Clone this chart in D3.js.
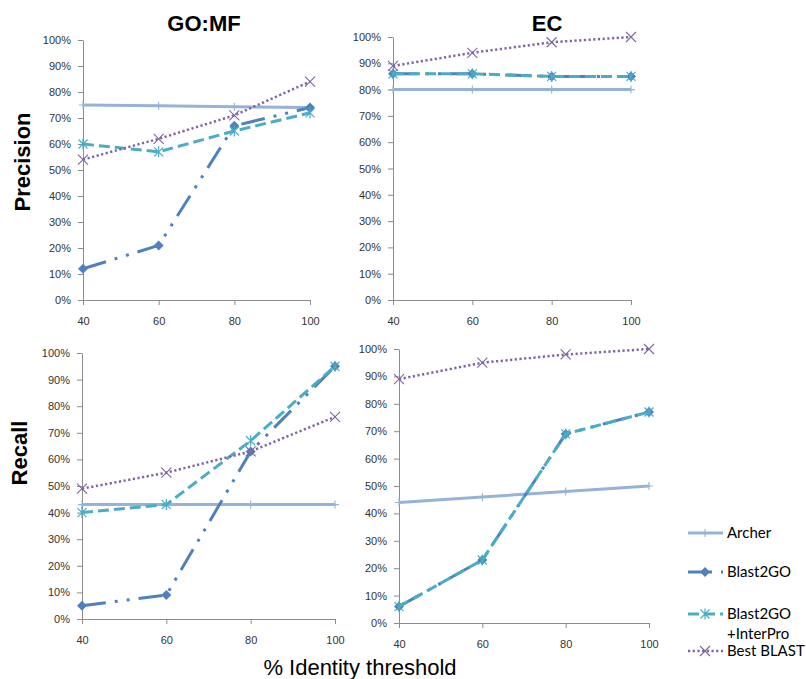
<!DOCTYPE html>
<html>
<head>
<meta charset="utf-8">
<script src="https://cdn.jsdelivr.net/npm/d3@7"></script>
<style>
  body { margin: 0; background: #fff; }
  text { font-family: "Liberation Sans", Arial, sans-serif; }
</style>
</head>
<body>
<svg id="chart" width="806" height="679"></svg>
<script>
// x categories and y ticks
const thresholds = [40, 60, 80, 100];
const yTicks = [0, 10, 20, 30, 40, 50, 60, 70, 80, 90, 100];
const seriesNames = ["Archer", "Blast2GO", "Blast2GO+InterPro", "Best BLAST"];

// GO:MF precision (%)
const goPrecArcher = [75, 74.7, 74.3, 74];
const goPrecBlast2go = [12, 21, 67, 74];
const goPrecInterpro = [60, 57, 65, 72];
const goPrecBest = [54, 62, 71, 84];

// EC precision (%)
const ecPrecArcher = [80, 80, 80, 80];
const ecPrecBlast2go = [86, 86, 85, 85];
const ecPrecInterpro = [86, 86, 85, 85];
const ecPrecBest = [89, 94, 98, 100];

// GO:MF recall (%)
const goRecArcher = [43, 43, 43, 43];
const goRecBlast2go = [5, 9, 63, 95];
const goRecInterpro = [40, 43, 67, 95];
const goRecBest = [49, 55, 63, 76];

// EC recall (%)
const ecRecArcher = [44, 46, 48, 50];
const ecRecBlast2go = [6, 23, 69, 77];
const ecRecInterpro = [6, 23, 69, 77];
const ecRecBest = [89, 95, 98, 100];

// series styles (excel 2007 palette)
const styles = [
    {color: "#95b3d7", dash: null, marker: "plus", width: 3},
    {color: "#4f81bd", dash: "24,9,3,9,3,9", marker: "diamond", width: 3},
    {color: "#4bacc6", dash: "11,5", marker: "star", width: 3},
    {color: "#8064a2", dash: "2.2,2.5", marker: "cross", width: 2.5}
];

// panel boxes: left, right, top (100%), bottom (0%)
const panels = [
    {x0: 83, x1: 310, yTop: 40, yBot: 300, series: [goPrecArcher, goPrecBlast2go, goPrecInterpro, goPrecBest]},
    {x0: 393, x1: 631, yTop: 37, yBot: 300, series: [ecPrecArcher, ecPrecBlast2go, ecPrecInterpro, ecPrecBest]},
    {x0: 82, x1: 335, yTop: 353, yBot: 619, series: [goRecArcher, goRecBlast2go, goRecInterpro, goRecBest]},
    {x0: 399, x1: 649, yTop: 349, yBot: 623, series: [ecRecArcher, ecRecBlast2go, ecRecInterpro, ecRecBest]}
];

let svg = d3.select("#chart");

//draw a marker of the given kind at (0,0) inside group g
function drawMarker(g, kind, color) {
    if (kind === "diamond") {
        g.append("path").attr("d", "M0,-5L5,0L0,5L-5,0Z").attr("fill", color);
    } else if (kind === "star") {
        g.append("path").attr("d", "M-4.5,-4.5L4.5,4.5M-4.5,4.5L4.5,-4.5M0,-5.5L0,5.5")
            .attr("stroke", color).attr("stroke-width", 1.2).attr("fill", "none");
    } else if (kind === "cross") {
        g.append("path").attr("d", "M-5,-5L5,5M-5,5L5,-5")
            .attr("stroke", color).attr("stroke-width", 1.1).attr("fill", "none");
    } else if (kind === "plus") {
        g.append("path").attr("d", "M-4,0L4,0M0,-4L0,4")
            .attr("stroke", color).attr("stroke-width", 1.1).attr("fill", "none");
    }
}

panels.forEach(function(p) {
    let x = d3.scalePoint().domain(thresholds).range([p.x0, p.x1]).padding(0);
    let y = d3.scaleLinear().domain([0, 100]).range([p.yBot, p.yTop]);

    let yaxis = d3.axisLeft(y).tickValues(yTicks).tickFormat(d => d + "%")
        .tickSize(5).tickSizeOuter(0).tickPadding(7);
    let xaxis = d3.axisBottom(x).tickSize(5).tickSizeOuter(0).tickPadding(12);

    let gy = svg.append("g").attr("transform", `translate(${p.x0},0)`).call(yaxis);
    let gx = svg.append("g").attr("transform", `translate(0,${p.yBot})`).call(xaxis);
    [gx, gy].forEach(function(g) {
        g.select(".domain").attr("stroke", "#8c8c8c");
        g.selectAll(".tick line").attr("stroke", "#8c8c8c");
        g.selectAll("text").attr("fill", "#333").style("font-size", "11px");
    });

    let line = d3.line().x((d, i) => x(thresholds[i])).y(d => y(d));

    p.series.forEach(function(vals, si) {
        let st = styles[si];
        svg.append("path")
            .datum(vals)
            .attr("d", line)
            .attr("fill", "none")
            .attr("stroke", st.color)
            .attr("stroke-width", st.width)
            .attr("stroke-dasharray", st.dash)
            .attr("stroke-linejoin", "round");
        vals.forEach(function(v, i) {
            let g = svg.append("g").attr("transform", `translate(${x(thresholds[i])},${y(v)})`);
            drawMarker(g, st.marker, st.color);
        });
    });
});

// column titles
svg.append("text").attr("x", 204).attr("y", 31).attr("text-anchor", "middle")
    .style("font-size", "22px").style("font-weight", "bold").text("GO:MF");
svg.append("text").attr("x", 547).attr("y", 31).attr("text-anchor", "middle")
    .style("font-size", "22px").style("font-weight", "bold").text("EC");

// row titles
svg.append("text").attr("transform", "translate(30,162) rotate(-90)").attr("text-anchor", "middle")
    .style("font-size", "22px").style("font-weight", "bold").text("Precision");
svg.append("text").attr("transform", "translate(27,453) rotate(-90)").attr("text-anchor", "middle")
    .style("font-size", "22px").style("font-weight", "bold").text("Recall");

// x axis title
svg.append("text").attr("x", 360).attr("y", 675).attr("text-anchor", "middle")
    .style("font-size", "22px").text("% Identity threshold");

//legend
let legendY = [533, 572, 614, 651];
seriesNames.forEach(function(name, i) {
    let st = styles[i];
    let ly = legendY[i];
    svg.append("line").attr("x1", 688).attr("x2", 723).attr("y1", ly).attr("y2", ly)
        .attr("stroke", st.color).attr("stroke-width", st.width)
        .attr("stroke-dasharray", st.dash);
    let g = svg.append("g").attr("transform", `translate(705,${ly})`);
    drawMarker(g, st.marker, st.color);
    let t = svg.append("text").attr("x", 727).attr("y", ly + 5)
        .style("font-family", "Lato, sans-serif").style("font-size", "15px").attr("fill", "#000");
    if (name === "Blast2GO+InterPro") {
        t.append("tspan").attr("x", 727).text("Blast2GO");
        t.append("tspan").attr("x", 727).attr("dy", 20).text("+InterPro");
    } else {
        t.text(name);
    }
});
</script>
</body>
</html>
